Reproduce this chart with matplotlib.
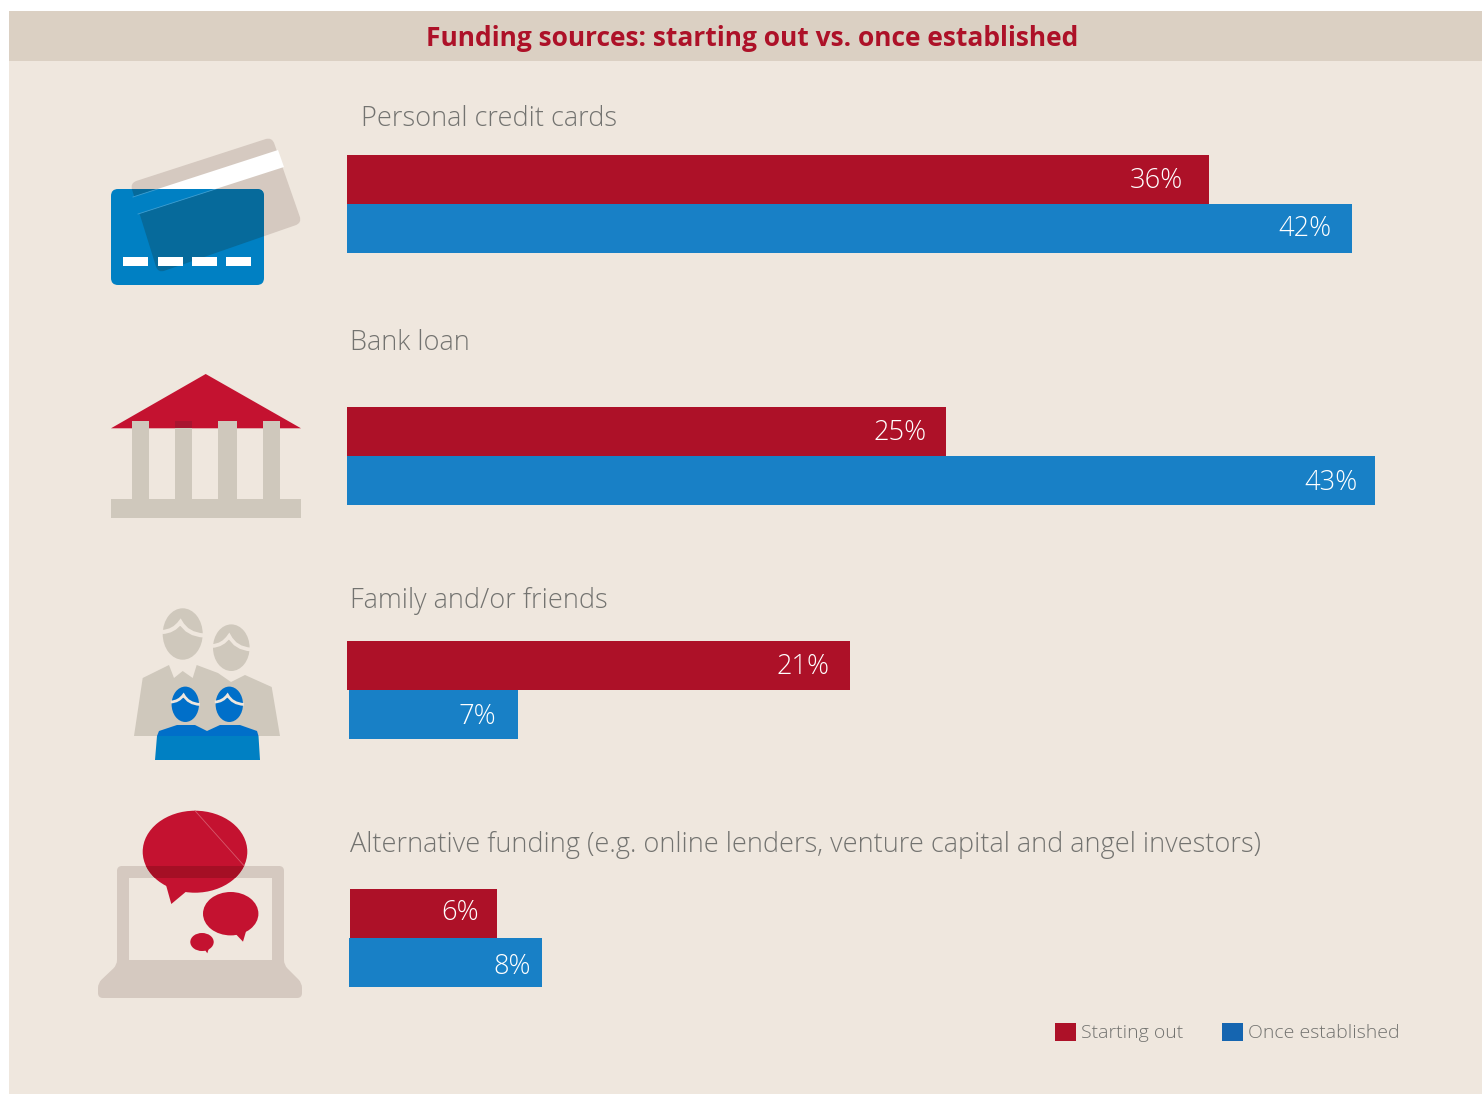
import matplotlib
matplotlib.use("Agg")
import matplotlib.pyplot as plt
import numpy as np
from matplotlib.patches import Polygon, Rectangle, Ellipse, PathPatch, Patch
from matplotlib.path import Path

# ---- data ----
categories = ["Personal credit cards", "Bank loan", "Family and/or friends",
              "Alternative funding (e.g. online lenders, venture capital and angel investors)"]
starting_out = [36.0, 25.0, 21.05, 6.14]
once_established = [42.0, 43.0, 7.06, 8.06]
starting_labels = ["36%", "25%", "21%", "6%"]
established_labels = ["42%", "43%", "7%", "8%"]
series_names = ["Starting out", "Once established"]
title = "Funding sources: starting out vs. once established"

# ---- styles ----
W, H = 1482, 1095
BG = "#efe7de"; HEAD = "#dbd0c3"; RED = "#ad1128"; BLUE = "#1880c6"
ICON_RED = "#c41230"; ICON_BLUE = "#0080c3"; TAUPE = "#d5c9c0"; STONE = "#cfc8bc"
GREY = "#737370"; FONT = "Open Sans"
PX_PER_PCT = 23.95; X0 = 347

fig = plt.figure(figsize=(W / 100, H / 100), dpi=100, facecolor="white")
bg = fig.add_axes([0, 0, 1, 1]); bg.set_xlim(0, W); bg.set_ylim(H, 0); bg.axis("off")
bg.add_patch(Rectangle((9, 11), W - 9, 1083, fc=BG, ec="none"))
bg.add_patch(Rectangle((9, 11), W - 9, 50, fc=HEAD, ec="none"))
bg.text(752, 38.5, title, color=RED, fontsize=19.0, fontweight="bold", family="Open Sans",
        ha="center", va="center")

def rounded(points, r):
    pts = np.array(points, float); n = len(pts); verts = []; codes = []
    for i in range(n):
        p, a, b = pts[i], pts[i - 1], pts[(i + 1) % n]
        s = p + (a - p) / np.linalg.norm(a - p) * r
        e = p + (b - p) / np.linalg.norm(b - p) * r
        verts += [s, p, e]
        codes += [Path.MOVETO if i == 0 else Path.LINETO, Path.CURVE3, Path.CURVE3]
    verts.append(verts[0]); codes.append(Path.CLOSEPOLY)
    return Path(verts, codes)

def poly(pts, color, z=2, clip=None):
    p = bg.add_patch(Polygon(pts, closed=True, fc=color, ec="none", zorder=z))
    if clip is not None:
        p.set_clip_path(clip)
    return p

# -- card icon --
back = [(272, 137), (302, 223), (158, 273), (130, 183)]
stripe = [(278, 150), (284, 167), (138, 214), (133, 197)]
bg.add_patch(PathPatch(rounded(back, 7), fc=TAUPE, ec="none", zorder=2))
poly(stripe, "white", 2)
front = [(111, 189), (264, 189), (264, 285), (111, 285)]
fp = bg.add_patch(PathPatch(rounded(front, 7), fc=ICON_BLUE, ec="none", zorder=3))
d = bg.add_patch(PathPatch(rounded(back, 7), fc="#066a9b", ec="none", zorder=4))
d.set_clip_path(fp)
poly(stripe, ICON_BLUE, 5, clip=fp)
for a, b in ((stripe[0], stripe[3]), (stripe[1], stripe[2])):
    ln, = bg.plot([a[0], b[0]], [a[1], b[1]], color="#3f9fd2", lw=0.6, zorder=5.5)
    ln.set_clip_path(fp)
for x in (123, 158, 192, 226):
    bg.add_patch(Rectangle((x, 257), 25, 9, fc="white", ec="none", zorder=6))

# -- bank icon --
poly([(205.7, 374), (301, 428.3), (111, 428.3)], ICON_RED)
for x, w in ((131.7, 17.3), (174.7, 17.6), (218.3, 18.4), (262.7, 17.6)):
    bg.add_patch(Rectangle((x, 421), w, 80, fc=STONE, ec="none", zorder=3))
bg.add_patch(Rectangle((174.7, 421), 17.6, 7.3, fc="#a81530", ec="none", zorder=4))
bg.add_patch(Rectangle((111, 499.3), 190, 18.4, fc=STONE, ec="none", zorder=3))

# -- family icon --
def hair(x0, x1, ym, top, lw, z):
    w = x1 - x0; h = ym - top
    verts = [(x0, ym), (x0 + .28 * w, ym - .05 * h), (x0 + .44 * w, top),
             (x0 + .60 * w, ym + .25 * h), (x1, ym + .35 * h)]
    codes = [Path.MOVETO, Path.CURVE3, Path.CURVE3, Path.CURVE3, Path.CURVE3]
    bg.add_patch(PathPatch(Path(verts, codes), fc="none", ec=BG, lw=lw, zorder=z, capstyle="butt"))

poly([(134, 736), (142.7, 678), (169, 665), (174, 678), (182.7, 671), (192.7, 678), (196.7, 665),
      (218, 673), (231, 682), (245, 675), (271.7, 687), (280, 736)], STONE)
bg.add_patch(Ellipse((182.7, 634), 40, 51.4, fc=STONE, ec="none", zorder=3))
bg.add_patch(Ellipse((231.3, 647.7), 36.6, 46.6, fc=STONE, ec="none", zorder=2.5))
hair(162, 204, 632, 622, 3.0, 3.1)
hair(212, 251, 646, 636, 2.7, 3.1)
for cx in (185.3, 229.3):
    bg.add_patch(Ellipse((cx, 704.3), 27.4, 35.4, fc="#006fc9", ec="none", zorder=4))
    hair(cx - 14.5, cx + 14.5, 702, 695, 2.0, 4.1)
poly([(157, 736), (159, 731), (177, 725), (195, 725), (207, 731), (220, 725), (240, 725), (257, 731), (258.5, 736)],
     "#006fc9", 4)
poly([(157, 736), (258.5, 736), (260, 760), (155, 760)], ICON_BLUE, 4)

# -- laptop icon --
bg.add_patch(PathPatch(rounded([(117, 866), (284, 866), (284, 965), (302, 983), (302, 998), (98, 998), (98, 983), (117, 965)], 5),
                       fc=TAUPE, ec="none", zorder=2))
bg.add_patch(Rectangle((129, 878), 143, 82, fc=BG, ec="none", zorder=3))
big = bg.add_patch(Ellipse((195, 851.7), 104.6, 82, fc=ICON_RED, ec="none", zorder=4))
poly([(166, 885), (171.3, 904), (186, 891.7), (180, 880)], ICON_RED, 4)
band = bg.add_patch(Rectangle((130, 866), 130, 12, fc="#a50f25", ec="none", zorder=5))
band.set_clip_path(big)
bg.plot([195, 244], [810.7, 865.7], color="#d65a6c", lw=0.6, zorder=6)
bg.add_patch(Ellipse((230.7, 913.7), 55.4, 43.4, fc=ICON_RED, ec="none", zorder=4))
poly([(235.7, 934), (243, 941.7), (247, 928), (238, 930)], ICON_RED, 4)
bg.add_patch(Ellipse((202, 942), 23.4, 18, fc=ICON_RED, ec="none", zorder=4))
poly([(204.3, 949), (207.3, 953.3), (209.3, 947)], ICON_RED, 4)

# ---- category labels ----
label_xy = [(361, 118.5), (350, 343.5), (350, 600.5), (350, 844.5)]
for (x, y), c in zip(label_xy, categories):
    bg.text(x, y, c, color=GREY, fontsize=19.5, family=FONT, fontweight="light", ha="left", va="center")

# ---- bars ----
ax = fig.add_axes([X0 / W, 0, 1 - X0 / W, 1])
ax.set_xlim(0, (W - X0) / PX_PER_PCT); ax.set_ylim(H, 0); ax.axis("off"); ax.patch.set_alpha(0)
red_y = [179.5, 431.5, 665.5, 913.5]
blue_y = [228.5, 480.5, 714.5, 962.5]
red_start = [0, 0, -1.4, 3]
blue_start = [-1.4, -1.4, 2, 2]
red_off = [(-26, 0), (-19, 0), (-20, 0), (-18, -2)]
blue_off = [(-20, 0), (-18, 1), (-22, 2), (-11, 4)]
def draw(vals, ys, starts, color, labels, offs):
    lefts = np.array(starts) / PX_PER_PCT
    ax.barh(ys, vals, height=49, left=lefts, color=color, linewidth=0)
    for v, y, l, s, o in zip(vals, ys, labels, lefts, offs):
        ax.annotate(l, (v + s, y), xytext=(o[0] * .72, -(o[1] + 1) * .72), textcoords="offset points",
                    color="white", fontsize=19.6, family=FONT, fontweight="light", ha="right", va="center")
draw(starting_out, red_y, red_start, RED, starting_labels, red_off)
draw(once_established, blue_y, blue_start, BLUE, established_labels, blue_off)

# ---- legend ----
handles = [Patch(fc=RED, ec="none", label=series_names[0]), Patch(fc="#1565b0", ec="none", label=series_names[1])]
bg.legend(handles=handles, loc="center left", bbox_to_anchor=(1055 / W, 1 - 1032.5 / H), bbox_transform=fig.transFigure,
          ncols=2, frameon=False, labelcolor=GREY, prop={"family": FONT, "weight": "light", "size": 14.0},
          handlelength=1.08, handleheight=1.08, handletextpad=0.25, columnspacing=2.0, borderpad=0, borderaxespad=0)

fig.savefig("out.png", dpi=100, facecolor="white")
